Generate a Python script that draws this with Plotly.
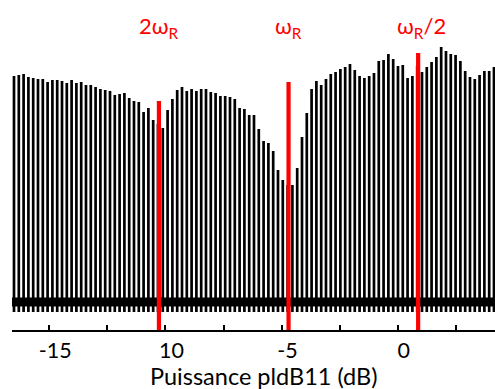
import numpy as np
import plotly.graph_objects as go

# ---- data -------------------------------------------------------------
# peak positions (dB): 101 equally spaced acquisitions
peak_first, peak_last, n_peaks = -16.52, 4.145, 101
peak_x = np.linspace(peak_first, peak_last, n_peaks)

# peak heights (arbitrary units, baseline = 0)
peak_heights = [
    226, 227, 228, 225, 224, 223, 223, 220, 222, 222,
    221, 219, 222, 219, 220, 217, 217, 215, 213, 212,
    211, 207, 208, 209, 204, 201, 200, 190, 194, 182,
    178, 174, 192, 203, 212, 215, 211, 213, 211, 213,
    213, 210, 209, 206, 206, 205, 203, 194, 193, 187,
    187, 173, 161, 159, 151, 132, 122, 117, 117, 134,
    165, 189, 213, 221, 217, 223, 228, 230, 233, 235,
    238, 232, 226, 224, 226, 229, 241, 242, 248, 243,
    236, 237, 224, 226, 236, 230, 235, 240, 245, 255,
    251, 248, 247, 241, 231, 225, 223, 227, 231, 231,
    235,
]

# red markers
marker_x = [-10.28, -4.70, 0.88]
marker_top = [201, 220, 249]
marker_labels = ["2ω<sub>R</sub>", "ω<sub>R</sub>", "ω<sub>R</sub>/2"]

tick_vals = [-15, -10, -5, 0]
tick_text = ["-15", "10", "-5", "0"]
minor_vals = [-12.5, -7.5, -2.5, 2.5]

x_range = [-16.606, 4.189]
y_range = [-28, 302]
peak_floor = -10
x_title = "Puissance pldB11 (dB)"

FONT = "Lato, 'Open Sans', sans-serif"

# ---- figure -----------------------------------------------------------
fig = go.Figure()

# noisy baseline band
fig.add_trace(go.Scatter(
    x=x_range, y=[0, 0], mode="lines",
    line=dict(color="black", width=9),
    hoverinfo="skip", showlegend=False, cliponaxis=True,
))

# peaks as vertical sticks
px, py = [], []
for xv, h in zip(peak_x, peak_heights):
    px += [xv, xv, None]
    py += [peak_floor, h, None]
fig.add_trace(go.Scatter(
    x=px, y=py, mode="lines",
    line=dict(color="black", width=2.7),
    hoverinfo="skip", showlegend=False,
))

# red marker lines
for xv, top in zip(marker_x, marker_top):
    fig.add_trace(go.Scatter(
        x=[xv, xv], y=[y_range[0], top], mode="lines",
        line=dict(color="#ff0000", width=4.2),
        hoverinfo="skip", showlegend=False,
    ))

label_x_offset = [0.0, 0.0, 0.15]
for xv, lab, off in zip(marker_x, marker_labels, label_x_offset):
    fig.add_annotation(
        x=xv + off, xref="x", y=0.918, yref="paper",
        text=lab, showarrow=False, xanchor="center", yanchor="middle",
        font=dict(family=FONT, size=22, color="#ff0000"),
    )

fig.add_annotation(
    x=0.5217, xref="paper", y=-0.091, yref="paper",
    text=x_title, showarrow=False, xanchor="center", yanchor="top",
    font=dict(family=FONT, size=23.5, color="black"),
)

fig.update_layout(
    width=495, height=389,
    margin=dict(l=12, r=0, t=0, b=59, autoexpand=False),
    paper_bgcolor="white", plot_bgcolor="white",
    showlegend=False,
    xaxis=dict(
        range=x_range, tickvals=tick_vals, ticktext=tick_text,
        ticks="inside", ticklen=5, tickwidth=1.5, tickcolor="black",
        showline=True, linecolor="black", linewidth=1.5,
        showgrid=False, zeroline=False, automargin=False,
        tickfont=dict(family=FONT, size=21.5, color="black"),
        ticklabelshift=6,
        minor=dict(tickvals=minor_vals, ticks="inside", ticklen=5,
                   tickwidth=1.5, tickcolor="black", showgrid=False),
    ),
    yaxis=dict(range=y_range, visible=False, showgrid=False,
               zeroline=False, automargin=False),
)

fig.write_html(
    "out.html",
    config={"displayModeBar": False},
    post_script="document.body.style.margin='0';document.body.style.overflow='hidden';",
)
